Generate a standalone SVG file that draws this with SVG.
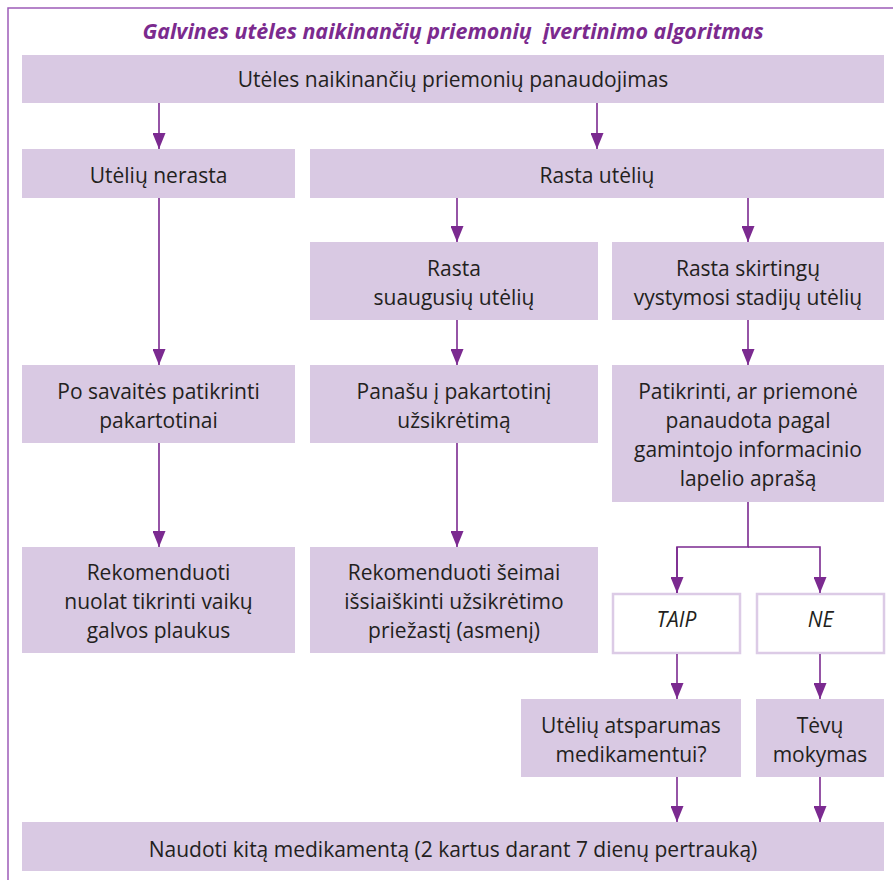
<svg xmlns="http://www.w3.org/2000/svg" width="893" height="880" viewBox="0 0 893 880">
<defs>
<style>
.box{fill:#d9c9e3;}
.yn{fill:#ffffff;stroke:#dccbe6;stroke-width:2.5;}
.t{font-family:"Open Sans","Noto Sans","Liberation Sans",sans-serif;font-size:21px;fill:#231f20;text-anchor:middle;}
.i{font-style:italic;}
.title{font-family:"Open Sans","Noto Sans","Liberation Sans",sans-serif;font-size:21.5px;font-weight:bold;font-style:italic;fill:#7b2a8e;text-anchor:middle;white-space:pre;}
.c{stroke:#7b2a90;stroke-width:1.6;fill:none;}
</style>
<marker id="ah" viewBox="0 0 16 13" refX="16" refY="6.5" markerWidth="16" markerHeight="13" markerUnits="userSpaceOnUse" orient="auto">
<path d="M0,0 L16,6.5 L0,13 Z" fill="#7b2a90"/>
</marker>
</defs>
<rect width="893" height="880" fill="#ffffff"/>
<rect x="8" y="8" width="900" height="900" fill="none" stroke="#9d5cb8" stroke-width="1.5"/>
<text class="title" x="453" y="39" xml:space="preserve">Galvines utėles naikinančių priemonių  įvertinimo algoritmas</text>

<g id="n-top"><rect class="box" x="22" y="55" width="862" height="48"/><text class="t" x="453" y="87">Utėles naikinančių priemonių panaudojimas</text></g>
<g id="n-nerasta"><rect class="box" x="22" y="149" width="273" height="49"/><text class="t" x="158.5" y="183">Utėlių nerasta</text></g>
<g id="n-rasta"><rect class="box" x="310" y="149" width="574" height="49"/><text class="t" x="597" y="183">Rasta utėlių</text></g>
<g id="n-suaug"><rect class="box" x="310" y="242" width="288" height="78"/><text class="t" x="454" y="276">Rasta</text><text class="t" x="454" y="305">suaugusių utėlių</text></g>
<g id="n-skirt"><rect class="box" x="612" y="242" width="272" height="78"/><text class="t" x="748" y="276">Rasta skirtingų</text><text class="t" x="748" y="305">vystymosi stadijų utėlių</text></g>
<g id="n-posav"><rect class="box" x="22" y="365" width="273" height="78"/><text class="t" x="158.5" y="399">Po savaitės patikrinti</text><text class="t" x="158.5" y="428">pakartotinai</text></g>
<g id="n-panasu"><rect class="box" x="310" y="365" width="288" height="78"/><text class="t" x="454" y="399">Panašu į pakartotinį</text><text class="t" x="454" y="428">užsikrėtimą</text></g>
<g id="n-patikr"><rect class="box" x="612" y="365" width="272" height="137"/><text class="t" x="748" y="399">Patikrinti, ar priemonė</text><text class="t" x="748" y="428">panaudota pagal</text><text class="t" x="748" y="457">gamintojo informacinio</text><text class="t" x="748" y="486">lapelio aprašą</text></g>
<g id="n-rek1"><rect class="box" x="22" y="547" width="273" height="106"/><text class="t" x="158.5" y="580">Rekomenduoti</text><text class="t" x="158.5" y="609">nuolat tikrinti vaikų</text><text class="t" x="158.5" y="638">galvos plaukus</text></g>
<g id="n-rek2"><rect class="box" x="310" y="547" width="288" height="106"/><text class="t" x="454" y="580">Rekomenduoti šeimai</text><text class="t" x="454" y="609">išsiaiškinti užsikrėtimo</text><text class="t" x="454" y="638">priežastį (asmenį)</text></g>
<g id="n-taip"><rect class="yn" x="613" y="594" width="127" height="59"/><text class="t i" x="676.5" y="627">TAIP</text></g>
<g id="n-ne"><rect class="yn" x="757" y="594" width="127" height="59"/><text class="t i" x="820.5" y="627">NE</text></g>
<g id="n-atsp"><rect class="box" x="521" y="699" width="220" height="78"/><text class="t" x="631" y="733">Utėlių atsparumas</text><text class="t" x="631" y="762">medikamentui?</text></g>
<g id="n-tevu"><rect class="box" x="756" y="699" width="128" height="78"/><text class="t" x="820" y="733">Tėvų</text><text class="t" x="820" y="762">mokymas</text></g>
<g id="n-naudoti"><rect class="box" x="22" y="822" width="862" height="49"/><text class="t" x="453" y="857">Naudoti kitą medikamentą (2 kartus darant 7 dienų pertrauką)</text></g>

<g id="connectors">
<path class="c" d="M159,103 V149" marker-end="url(#ah)"/>
<path class="c" d="M597,103 V149" marker-end="url(#ah)"/>
<path class="c" d="M457,198 V242" marker-end="url(#ah)"/>
<path class="c" d="M748,198 V242" marker-end="url(#ah)"/>
<path class="c" d="M159,198 V365" marker-end="url(#ah)"/>
<path class="c" d="M457,320 V365" marker-end="url(#ah)"/>
<path class="c" d="M748,320 V365" marker-end="url(#ah)"/>
<path class="c" d="M159,443 V547" marker-end="url(#ah)"/>
<path class="c" d="M457,443 V547" marker-end="url(#ah)"/>
<path class="c" d="M748,502 V547 H677 V593"/>
<path class="c" d="M677,547 V593" marker-end="url(#ah)"/>
<path class="c" d="M748,547 H820 V593" marker-end="url(#ah)"/>
<path class="c" d="M677,654 V699" marker-end="url(#ah)"/>
<path class="c" d="M820,654 V699" marker-end="url(#ah)"/>
<path class="c" d="M677,777 V822" marker-end="url(#ah)"/>
<path class="c" d="M820,777 V822" marker-end="url(#ah)"/>
</g>
</svg>
